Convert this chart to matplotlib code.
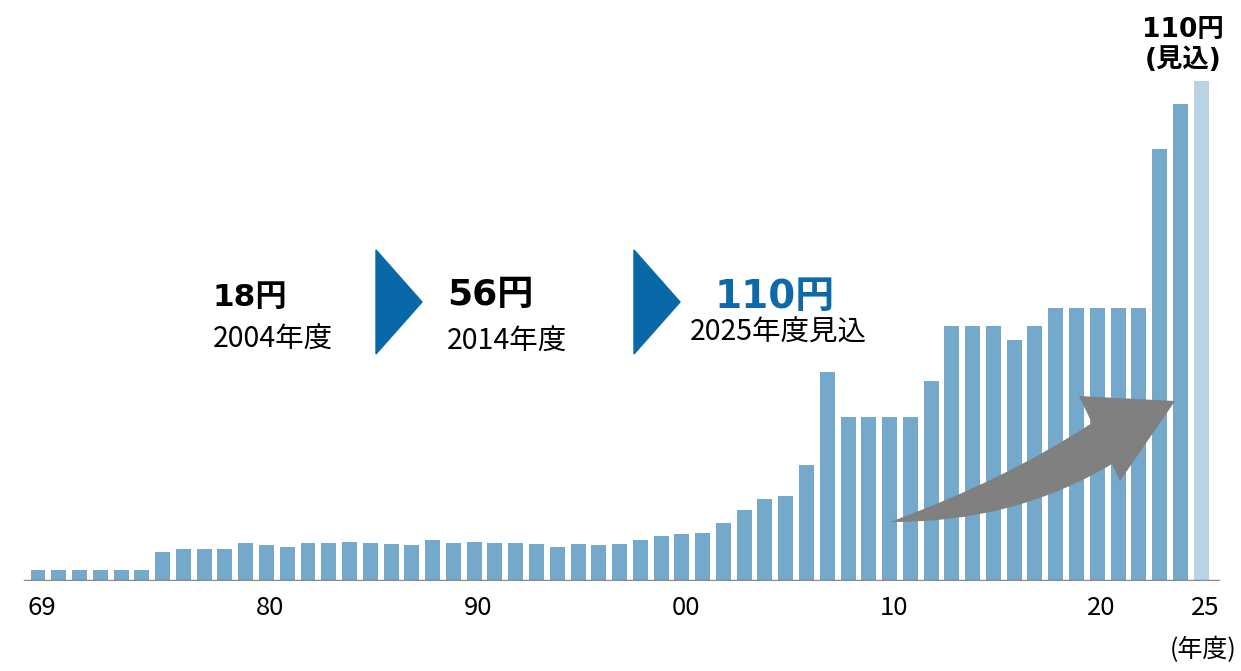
import matplotlib
matplotlib.use("Agg")
import matplotlib.pyplot as plt
from matplotlib.patches import Polygon, PathPatch
from matplotlib.path import Path
from matplotlib.transforms import ScaledTranslation

plt.rcParams['font.family'] = ['Noto Sans CJK JP', 'DejaVu Sans']
BOLD_FAMILY = ['DejaVu Sans', 'Noto Sans CJK JP']

# Annual dividend per share (yen), fiscal 1969-2025 (2025 = forecast)
years = list(range(1969, 2026))
dividends = [
    2.5, 2.5, 2.5, 2.5, 2.5, 2.5, 6.4, 7.0, 7.0, 7.0,      # 1969-1978
    8.4, 8.0, 7.5, 8.4, 8.4, 8.6, 8.4, 8.1, 7.9, 9.0,      # 1979-1988
    8.4, 8.6, 8.4, 8.4, 8.1, 7.5, 8.1, 7.9, 8.1, 9.0,      # 1989-1998
    10.0, 10.3, 10.6, 12.8, 15.6, 18.0, 18.7, 25.5, 46.0, 36.0,  # 1999-2008
    36.0, 36.0, 36.0, 44.0, 56.0, 56.0, 56.0, 53.0, 56.0, 60.0,  # 2009-2018
    60.0, 60.0, 60.0, 60.0, 95.0, 105.0, 110.0,            # 2019-2025
]
tick_years = [1969, 1980, 1990, 2000, 2010, 2020, 2025]
tick_labels = ["69", "80", "90", "00", "10", "20", "25"]

highlights = [("18円", "2004年度"), ("56円", "2014年度"), ("110円", "2025年度見込")]

BAR = "#74a9cb"
BAR_FORECAST = "#b9d3e4"
ARROW_BLUE = "#0868a8"
TEXT_BLUE = "#0e69a8"

W, H = 1241, 671
fig = plt.figure(figsize=(W / 100, H / 100), dpi=100)
ax = fig.add_axes([0, 90 / H, 1, 581 / H])
ax.set_xlim(1967.17, 2026.92)
ax.set_ylim(0, 127.82)

colors = [BAR] * (len(years) - 1) + [BAR_FORECAST]
ax.bar(years, dividends, width=0.72, color=colors, zorder=2)

for s in ax.spines.values():
    s.set_visible(False)
ax.set_yticks([])
ax.axhline(0, xmin=25 / W, xmax=1218 / W, color="#8a8a8a", lw=2.5, zorder=3)

ax.set_xticks(tick_years)
ax.set_xticklabels(tick_labels, fontsize=18.5)
ax.tick_params(axis="x", length=0, pad=10)
shift = ScaledTranslation(4 / 100, 0, fig.dpi_scale_trans)
for lbl in ax.get_xticklabels():
    lbl.set_transform(lbl.get_transform() + shift)


def fx(x):
    return x / W


def fy(y):
    return 1 - y / H


fig.text(fx(1237), fy(650), "(年度)", fontsize=18, ha="right", va="center")

# Forecast label above the last bar
fig.text(fx(1183), fy(37), "110円", fontsize=19, fontweight="bold",
         family=BOLD_FAMILY, ha="center", va="baseline")
fig.text(fx(1183), fy(67), "(見込)", fontsize=19, fontweight="bold",
         family=BOLD_FAMILY, ha="center", va="baseline")

# Highlight texts and blue chevrons
fig.text(fx(213), fy(306), highlights[0][0], fontsize=22.5, fontweight="bold",
         family=BOLD_FAMILY, va="baseline")
fig.text(fx(213), fy(348), highlights[0][1], fontsize=20.5, va="baseline")
fig.text(fx(447), fy(305), highlights[1][0], fontsize=26, fontweight="bold",
         family=BOLD_FAMILY, va="baseline")
fig.text(fx(447), fy(350), highlights[1][1], fontsize=20.5, va="baseline")
fig.text(fx(775), fy(308), highlights[2][0], fontsize=28, fontweight="bold",
         family=BOLD_FAMILY, color=TEXT_BLUE, va="baseline", ha="center")
fig.text(fx(778), fy(341), highlights[2][1], fontsize=20.5, va="baseline", ha="center")

for x0 in (376, 634):
    tri = Polygon([(fx(x0), fy(250)), (fx(x0 + 46), fy(302)), (fx(x0), fy(354))],
                  closed=True, transform=fig.transFigure, color=ARROW_BLUE, zorder=5)
    fig.add_artist(tri)

# Curved grey growth arrow
pts = [
    (890, 522),                       # tail
    (1005, 480), (1092, 423),         # upper edge (quadratic)
    (1079, 396), (1175, 401), (1120, 481), (1112, 464),  # head
    (1013, 523), (890, 522),          # lower edge (quadratic)
]
codes = [Path.MOVETO, Path.CURVE3, Path.CURVE3,
         Path.LINETO, Path.LINETO, Path.LINETO, Path.LINETO,
         Path.CURVE3, Path.CURVE3]
path = Path([(fx(x), fy(y)) for x, y in pts], codes)
fig.add_artist(PathPatch(path, transform=fig.transFigure, facecolor="#808080",
                         edgecolor="none", zorder=6))

fig.savefig("out.png", dpi=100)
